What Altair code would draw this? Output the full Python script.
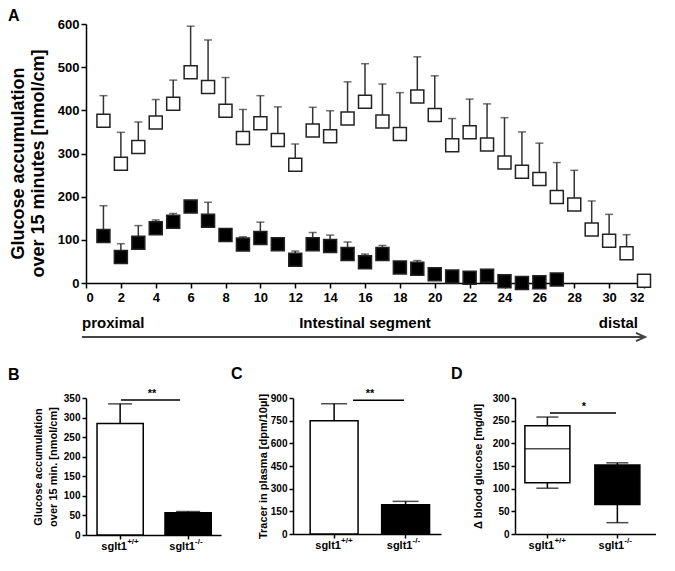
import altair as alt
import pandas as pd

# ---------------- data ----------------
segments = list(range(1, 33))
wt_mean = [376, 276, 315, 372, 415, 488, 454, 399, 336, 370, 331, 274, 353, 340, 381, 420,
           374, 345, 432, 389, 319, 349, 321, 279, 258, 241, 199, 182, 124, 98, 69, 5]
wt_upper = [434, 349, 373, 425, 470, 595, 563, 476, 402, 434, 408, 322, 407, 399, 466, 508,
            461, 441, 524, 480, 381, 426, 415, 383, 350, 324, 279, 261, 190, 159, 112, None]
ko_segments = list(range(1, 28))
ko_mean = [109, 60, 93, 127, 142, 177, 144, 111, 89, 104, 90, 54, 90, 86, 67, 48, 67, 36,
           33, 20, 15, 12, 17, 4, 0, 2, 8]
ko_upper = [179, 91, 133, 146, 161, None, 187, None, 107, 141, None, 74, 117, 111, 95, 67,
            87, 48, 52, None, None, None, 31, None, None, None, None]

genotypes = ["wt", "ko"]
geno_base = ["sglt1", "sglt1"]
geno_sup = ["+/+", "-/-"]

b_mean = [285, 57]
b_upper = [335, 60]
c_mean = [750, 194]
c_upper = [862, 216]
d_min = [101, 25]
d_q1 = [113, 65]
d_med = [188, 140]
d_q3 = [239, 152]
d_max = [258, 157]

FONT = "Liberation Sans"
AX = dict(domainColor="black", tickColor="black", labelColor="black", titleColor="black",
          labelFontWeight="bold", titleFontWeight="bold", grid=False)


def txt(t, x, y, size, align="center", baseline="middle", **kw):
    return alt.Chart(pd.DataFrame({"t": [t]})).mark_text(
        align=align, baseline=baseline, fontSize=size, fontWeight="bold", color="black", **kw
    ).encode(x=alt.value(x), y=alt.value(y), text="t:N")


# ---------------- panel A ----------------
WA, HA = 558, 259
dfA = pd.concat([
    pd.DataFrame({"seg": segments, "mean": wt_mean, "upper": wt_upper, "g": "wt"}),
    pd.DataFrame({"seg": ko_segments, "mean": ko_mean, "upper": ko_upper, "g": "ko"}),
], ignore_index=True)

xA = alt.X("seg:Q", scale=alt.Scale(domain=[0, 32], nice=False, zero=False),
           axis=alt.Axis(values=list(range(0, 33, 2)), title=None, domainWidth=1.5, tickWidth=1.5,
                         tickSize=5, labelFontSize=13, labelPadding=3, **AX))


def yA(field):
    return alt.Y(f"{field}:Q", scale=alt.Scale(domain=[0, 600], nice=False),
                 axis=alt.Axis(values=list(range(0, 601, 100)),
                               title=["Glucose accumulation", "over 15 minutes [nmol/cm]"],
                               titleFontSize=18, titleLineHeight=20, titlePadding=10,
                               titleY=139,
                               labelFontSize=13, labelPadding=2, tickSize=5, domainWidth=1.5,
                               tickWidth=1.5, **AX))


errA = alt.Chart(dfA).transform_filter("isValid(datum.upper)").mark_rule(
    color="#333", strokeWidth=1.5).encode(x=xA, y=yA("mean"), y2="upper:Q")
capA = alt.Chart(dfA).transform_filter("isValid(datum.upper)").mark_tick(
    orient="horizontal", size=8, thickness=1.5, color="#333").encode(x=xA, y=yA("upper"))
ptsA = alt.Chart(dfA).mark_square(size=169, stroke="#222", strokeWidth=1.5, opacity=1).encode(
    x=xA, y=yA("mean"),
    fill=alt.Fill("g:N", scale=alt.Scale(domain=["wt", "ko"], range=["white", "black"]), legend=None))

arrow = alt.Chart(pd.DataFrame({"a": [0]})).mark_rule(color="#444", strokeWidth=2).encode(
    x=alt.value(-4), x2=alt.value(559), y=alt.value(313))
head = alt.Chart(pd.DataFrame({"a": [0]})).mark_point(
    shape="M-1,-0.9L1,0L-1,0.9", size=81, filled=False, strokeWidth=2, color="#444", opacity=1
).encode(x=alt.value(554.5), y=alt.value(313))

panelA = alt.layer(
    errA, capA, ptsA,
    txt("A", -78, -8, 16, align="left"),
    txt("proximal", -4, 299, 15, align="left"),
    txt("Intestinal segment", 279, 299, 15),
    txt("distal", 552, 299, 15, align="right"),
    arrow, head,
).properties(width=WA, height=HA)


# ---------------- helpers for B, C, D ----------------
def xband(pi, po, al):
    return alt.X("g:N", sort=genotypes,
                 scale=alt.Scale(domain=genotypes, paddingInner=pi, paddingOuter=po, align=al),
                 axis=alt.Axis(labels=False, title=None, tickSize=4, tickWidth=1.5,
                               domainWidth=1.5, **AX))


def yax(field, ymax, step, title, tpad):
    return alt.Y(f"{field}:Q", scale=alt.Scale(domain=[0, ymax], nice=False),
                 axis=alt.Axis(values=list(range(0, ymax + 1, step)), title=title,
                               titleFontSize=11, titleLineHeight=15, titlePadding=tpad,
                               labelFontSize=10, labelPadding=2, tickSize=4, tickWidth=1.5,
                               domainWidth=1.5, **AX))


def geno_labels(df, x, H):
    base = alt.Chart(df).mark_text(dx=-6, fontSize=11, fontWeight="bold", color="black",
                                   baseline="middle").encode(
        x=x, y=alt.value(H + 12), text="base:N")
    sup = alt.Chart(df).mark_text(align="left", dx=7, fontSize=8, fontWeight="bold",
                                  color="black", baseline="middle").encode(
        x=x, y=alt.value(H + 7), text="sup:N")
    return [base, sup]


fillG = alt.Fill("g:N", scale=alt.Scale(domain=genotypes, range=["white", "black"]), legend=None)


def bar_panel(label, lab_x, lab_y, W, H, means, uppers, ymax, step, title, tpad, band,
              cap_w, sig_y, sig_x1, sig_x2, sig_tx, sig_t):
    df = pd.DataFrame({"g": genotypes, "mean": means, "upper": uppers,
                       "base": geno_base, "sup": geno_sup})
    x = xband(*band)
    bars = alt.Chart(df).mark_bar(stroke="black", strokeWidth=1.5).encode(
        x=x, y=yax("mean", ymax, step, title, tpad), fill=fillG)
    err = alt.Chart(df).mark_rule(color="black", strokeWidth=1.5).encode(
        x=x, y=yax("mean", ymax, step, title, tpad), y2="upper:Q")
    cap = alt.Chart(df).mark_tick(orient="horizontal", size=cap_w, thickness=1.5,
                                  color="black").encode(
        x=x, y=yax("upper", ymax, step, title, tpad))
    sig = alt.Chart(pd.DataFrame({"s": [sig_y]})).mark_rule(color="black", strokeWidth=1.5).encode(
        x=alt.value(sig_x1), x2=alt.value(sig_x2), y=yax("s", ymax, step, title, tpad))
    star = alt.Chart(pd.DataFrame({"s": [sig_y], "t": [sig_t]})).mark_text(
        baseline="bottom", dy=-1, fontSize=11, fontWeight="bold", color="black").encode(
        x=alt.value(sig_tx), y=yax("s", ymax, step, title, tpad), text="t:N")
    return alt.layer(err, bars, cap, sig, star, *geno_labels(df, x, H),
                     txt(label, lab_x, lab_y, 16, align="left")).properties(width=W, height=H)


panelB = bar_panel("B", -78, -23, 135, 137, b_mean, b_upper, 350, 50,
                   ["Glucose accumulation", "over 15 min. [nmol/cm]"], 5, (0.32, 0.153, 0.53),
                   24, 345, 35, 94, 66, "**")
panelC = bar_panel("C", -62, -24, 148, 136, c_mean, c_upper, 900, 150,
                   "Tracer in plasma [dpm/10µl]", 2, (0.33, 0.2, 0.6),
                   26, 885, 60, 111, 77, "**")

# ---------------- panel D ----------------
WD, HD = 141, 136
dfD = pd.DataFrame({"g": genotypes, "lo": d_min, "q1": d_q1, "med": d_med, "q3": d_q3,
                    "hi": d_max, "base": geno_base, "sup": geno_sup})
xD = xband(0.357, 0.186, 0.38)
titleD = "Δ blood glucose [mg/dl]"
whisk = alt.Chart(dfD).mark_rule(color="black", strokeWidth=1.5).encode(
    x=xD, y=yax("lo", 300, 50, titleD, 9), y2="hi:Q")
capLo = alt.Chart(dfD).mark_tick(orient="horizontal", size=22, thickness=1.5, color="black").encode(
    x=xD, y=yax("lo", 300, 50, titleD, 9))
capHi = alt.Chart(dfD).mark_tick(orient="horizontal", size=22, thickness=1.5, color="black").encode(
    x=xD, y=yax("hi", 300, 50, titleD, 9))
box = alt.Chart(dfD).mark_bar(stroke="black", strokeWidth=1.5).encode(
    x=xD, y=yax("q1", 300, 50, titleD, 9), y2="q3:Q", fill=fillG)
med = alt.Chart(dfD).mark_tick(orient="horizontal", size=45, thickness=1.5, color="black").encode(
    x=xD, y=yax("med", 300, 50, titleD, 9))
sigD = alt.Chart(pd.DataFrame({"s": [267]})).mark_rule(color="black", strokeWidth=1.5).encode(
    x=alt.value(35), x2=alt.value(101), y=yax("s", 300, 50, titleD, 9))
starD = alt.Chart(pd.DataFrame({"s": [267], "t": ["*"]})).mark_text(
    baseline="bottom", dy=-1, fontSize=11, fontWeight="bold", color="black").encode(
    x=alt.value(69), y=yax("s", 300, 50, titleD, 9), text="t:N")
panelD = alt.layer(whisk, capLo, capHi, box, med, sigD, starD, *geno_labels(dfD, xD, HD),
                   txt("D", -64, -24, 16, align="left")).properties(width=WD, height=HD)

row2 = alt.hconcat(panelB, panelC, panelD, spacing=10)
chart = alt.vconcat(panelA, row2, spacing=20).properties(
    padding={"left": 0, "top": 0, "right": 0, "bottom": 0}, background="white"
).configure(font=FONT).configure_view(stroke=None)

chart.save("out.html", embed_options={"renderer": "svg", "actions": False})
